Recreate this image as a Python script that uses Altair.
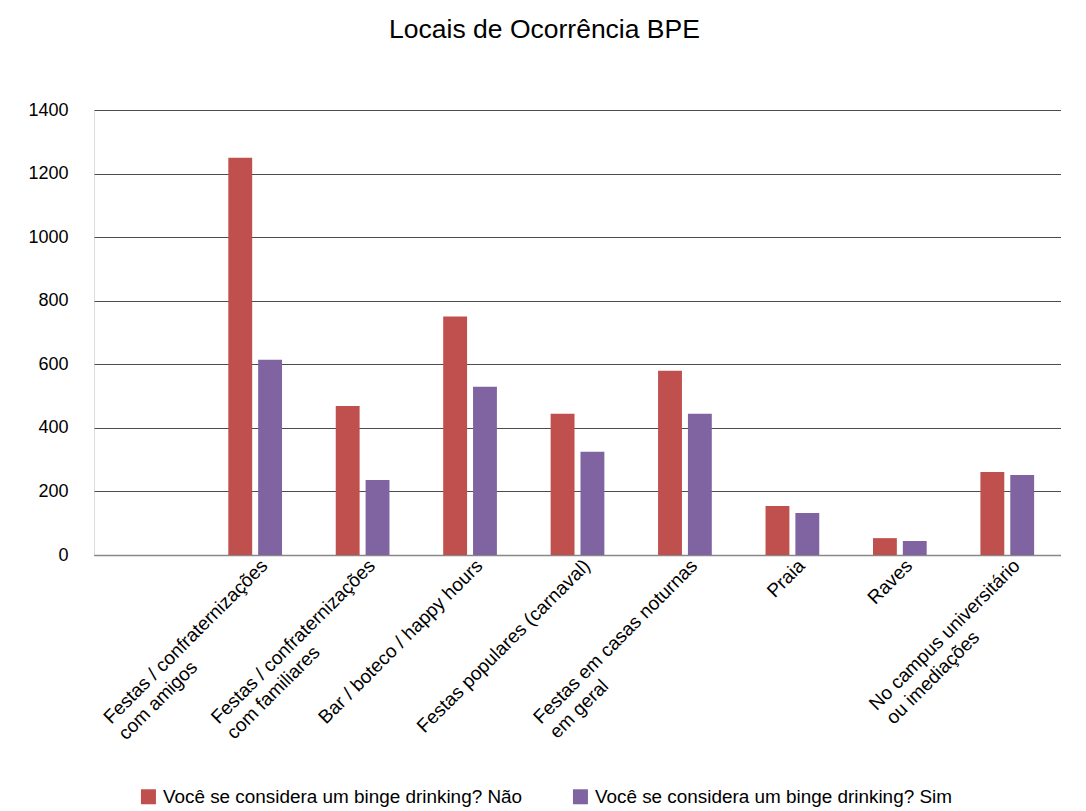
import altair as alt
import pandas as pd

# ---- data ----
blank_slot = " "
categories = [
    "Festas / confraternizações\ncom amigos",
    "Festas / confraternizações\ncom familiares",
    "Bar / boteco / happy hours",
    "Festas populares (carnaval)",
    "Festas em casas noturnas\nem geral",
    "Praia",
    "Raves",
    "No campus universitário\nou imediações",
]
series = [
    "Você se considera um binge drinking? Não",
    "Você se considera um binge drinking? Sim",
]
values_nao = [1250, 469, 750, 444, 580, 154, 53, 261]
values_sim = [614, 236, 529, 325, 444, 132, 44, 252]
y_ticks = [0, 200, 400, 600, 800, 1000, 1200, 1400]
colors = ["#C0504D", "#8064A2"]

# Arial / Liberation Sans advance widths (1/1000 em), used so that the
# second line of a wrapped label starts where the first line starts
# (left-aligned lines, as in the original spreadsheet chart).
_w = {" ": 278, "/": 278, "(": 333, ")": 333, "a": 556, "b": 556, "c": 500,
      "d": 556, "e": 556, "f": 278, "g": 556, "h": 556, "i": 222, "k": 500,
      "l": 222, "m": 833, "n": 556, "o": 556, "p": 556, "r": 333, "s": 500,
      "t": 278, "u": 556, "v": 500, "y": 500, "z": 500, "á": 556, "ã": 556,
      "ç": 500, "õ": 556, "ê": 556, "F": 611, "B": 667, "N": 722, "P": 667,
      "R": 722}


def _width(s):
    return sum(_w.get(ch, 556) for ch in s)


def left_align_lines(label):
    lines = label.split("\n")
    if len(lines) == 1:
        return label
    longest = max(_width(l) for l in lines)
    out = []
    for l in lines:
        n = round((longest - _width(l)) / 278)
        # no-break spaces, closed by a zero-width space so they are not trimmed
        out.append(l + ("\u00a0" * n + "\u200b" if n else ""))
    return "\n".join(out)


display = [left_align_lines(c) for c in categories]

rows = []
for c, v in zip(display, values_nao):
    rows.append({"local": c, "serie": series[0], "valor": v})
for c, v in zip(display, values_sim):
    rows.append({"local": c, "serie": series[1], "valor": v})
df = pd.DataFrame(rows)

FONT = "Liberation Sans"

chart = (
    alt.Chart(df)
    .mark_bar()
    .encode(
        x=alt.X(
            "local:N",
            scale=alt.Scale(domain=[blank_slot] + display, paddingInner=0.5, paddingOuter=0.25),
            sort=None,
            axis=alt.Axis(
                title=None,
                labelAngle=-45,
                labelAlign="right",
                labelBaseline="top",
                labelOffset=3,
                labelPadding=1,
                labelFontSize=19,
                labelLineHeight=22,
                labelLimit=0,
                labelOverlap=False,
                labelColor="black",
                labelFont=FONT,
                labelExpr="split(datum.label, '\\n')",
                ticks=False,
                tickSize=0,
                domain=True,
                domainColor="#888888",
                domainWidth=1.5,
                grid=False,
            ),
        ),
        xOffset=alt.XOffset(
            "serie:N",
            scale=alt.Scale(domain=series, paddingInner=0.2, paddingOuter=0),
        ),
        y=alt.Y(
            "valor:Q",
            scale=alt.Scale(domain=[0, 1400], nice=False),
            axis=alt.Axis(
                title=None,
                values=y_ticks,
                format="d",
                labelFontSize=18,
                labelPadding=26,
                labelColor="black",
                labelFont=FONT,
                ticks=False,
                tickSize=0,
                domain=False,
                grid=True,
                gridColor="#4d4d4d",
                gridWidth=1,
            ),
        ),
        color=alt.Color(
            "serie:N",
            scale=alt.Scale(domain=series, range=colors),
            legend=alt.Legend(
                title=None,
                orient="none",
                legendX=45,
                legendY=677,
                direction="horizontal",
                columns=2,
                columnPadding=48,
                symbolType="square",
                symbolSize=225,
                symbolStrokeWidth=0,
                labelFontSize=18.9,
                labelFont=FONT,
                labelColor="black",
                labelOffset=5,
                labelLimit=0,
                padding=0,
            ),
        ),
    )
    .properties(
        width=967,
        height=445,
        title=alt.TitleParams(
            "Locais de Ocorrência BPE",
            fontSize=26.5,
            font=FONT,
            fontWeight="normal",
            color="black",
            anchor="middle",
            frame="bounds",
            baseline="top",
            offset=57.5,
        ),
        padding={"left": 19, "top": 9, "right": 0, "bottom": 0},
    )
    .configure_view(stroke=None)
    .configure(background="white")
)

chart.save("out.html", embed_options={"renderer": "svg", "actions": False})
